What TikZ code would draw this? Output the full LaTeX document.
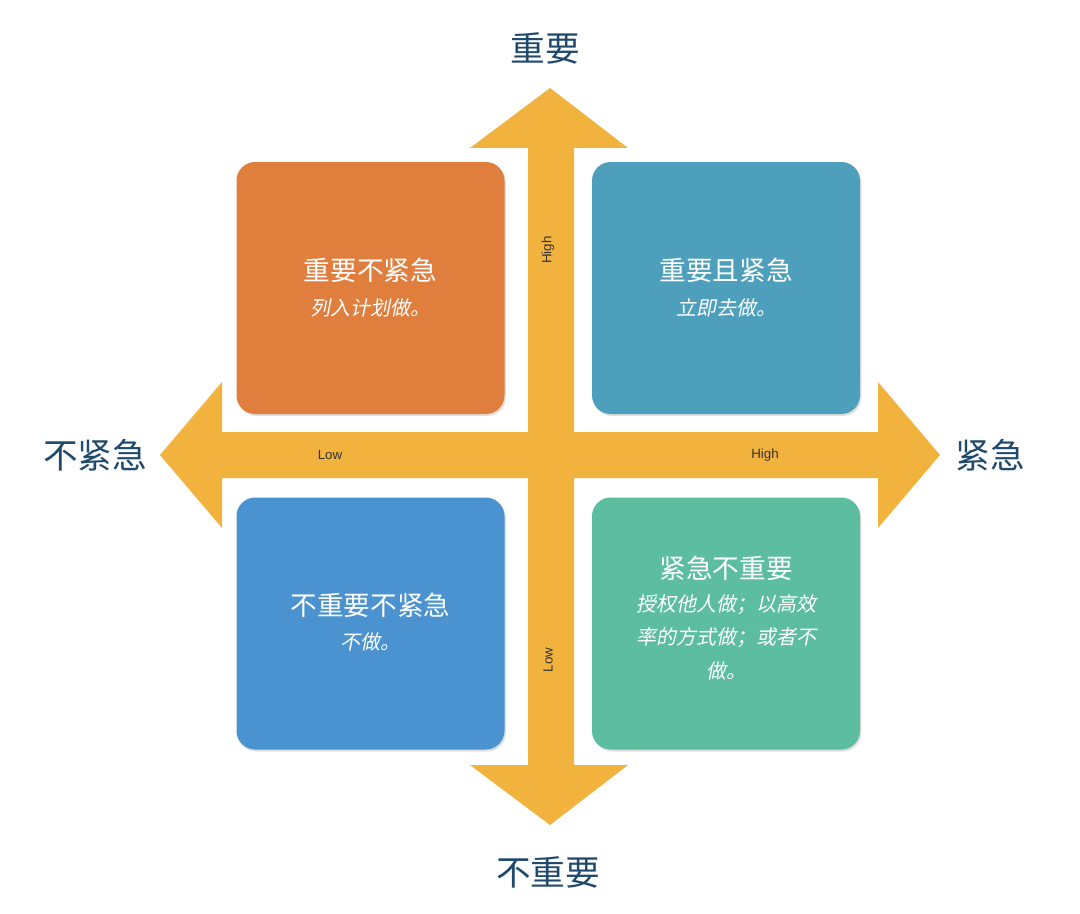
\documentclass[tikz,border=0pt]{standalone}
\usepackage{fontspec}
\setmainfont{Noto Sans CJK SC}
\newfontfamily\slantcjk[FakeSlant=0.2]{Noto Sans CJK SC}
\newfontfamily\latinsans{Liberation Sans}
\usetikzlibrary{shadows}
\definecolor{arrowgold}{HTML}{F2B23E}
\definecolor{boxorange}{HTML}{E07E3E}
\definecolor{boxteal}{HTML}{4E9FBB}
\definecolor{boxblue}{HTML}{4A92D0}
\definecolor{boxgreen}{HTML}{5CBE9E}
\definecolor{axisblue}{HTML}{1F4A6E}
\tikzset{
  quad/.style={rounded corners=14pt, minimum width=201pt, minimum height=189pt, inner sep=0pt,
    drop shadow={shadow xshift=1pt,shadow yshift=-1.5pt,opacity=.25}},
  title/.style={text=white, font=\fontsize{20}{24}\selectfont},
  sub/.style={text=white, font=\slantcjk\fontsize{15}{25}\selectfont, align=center},
  axislabel/.style={text=axisblue, font=\fontsize{26}{30}\selectfont},
  tick/.style={text=black!80, font=\latinsans\fontsize{10}{12}\selectfont}
}
\begin{document}
\begin{tikzpicture}[x=0.75pt,y=-0.75pt]
\useasboundingbox[fill=white] (0,0) rectangle (1080,913);
% axes
\fill[arrowgold] (528,148) -- (470,148) -- (550,88) -- (628,148) -- (574,148)
  -- (574,765) -- (628,765) -- (550,825) -- (470,765) -- (528,765) -- cycle;
\fill[arrowgold] (222,432) -- (222,382) -- (160,455) -- (222,528) -- (222,478)
  -- (878,478) -- (878,528) -- (940,455) -- (878,382) -- (878,432) -- cycle;
% quadrants
\node[quad, fill=boxorange] (tl) at (370.5,288) {};
\node[quad, fill=boxteal] (tr) at (726,288) {};
\node[quad, fill=boxblue] (bl) at (370.5,623.5) {};
\node[quad, fill=boxgreen] (br) at (726,623.5) {};
\node[title] (tlt) at (370.5,270) {重要不紧急};
\node[sub] (tls) at (370.5,308) {列入计划做。};
\node[title] (trt) at (726,270) {重要且紧急};
\node[sub] (trs) at (726,308) {立即去做。};
\node[title] (blt) at (370.5,605) {不重要不紧急};
\node[sub] (bls) at (370.5,642) {不做。};
\node[title] (brt) at (726,568) {紧急不重要};
\node[sub, anchor=north] (brs) at (726,590) {授权他人做；以高效\\率的方式做；或者不\\做。};
% labels
\node[axislabel] (up) at (545,48) {重要};
\node[axislabel] (down) at (548,872) {不重要};
\node[axislabel] (left) at (95,455) {不紧急};
\node[axislabel] (right) at (990,455) {紧急};
\node[tick, rotate=90] (hiv) at (548,250) {High};
\node[tick, rotate=90] (lov) at (548,660) {Low};
\node[tick] (loh) at (330,455) {Low};
\node[tick] (hih) at (765,455) {High};
\end{tikzpicture}
\end{document}
